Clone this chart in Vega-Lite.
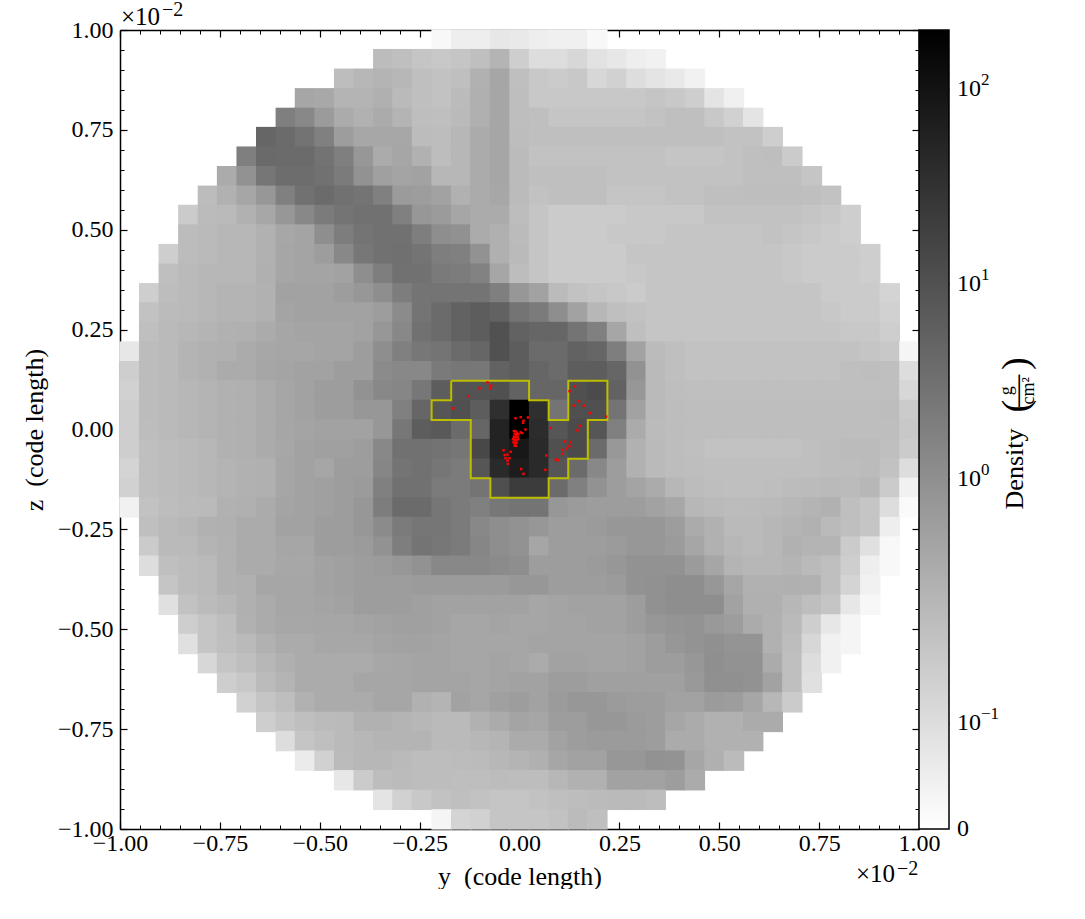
{"$schema":"https://vega.github.io/schema/vega-lite/v6.json","background":"white","padding":{"left":21,"top":0,"right":0,"bottom":0},"spacing":0,"bounds":"flush","config":{"view":{"stroke":null},"font":"Liberation Serif","axis":{"grid":false,"labelFont":"Liberation Serif","titleFont":"Liberation Serif","labelFontSize":24,"titleFontSize":26,"titleFontWeight":"normal","labelColor":"black","titleColor":"black","domainColor":"black","tickColor":"black","domainWidth":1.5,"tickWidth":1.2}},
"datasets":{"frame":[{"y":0,"z":0}],
"contour":[{"n":0,"y":-0.171,"z":0.122},{"n":1,"y":0.024,"z":0.122},{"n":2,"y":0.024,"z":0.073},{"n":3,"y":0.073,"z":0.073},{"n":4,"y":0.073,"z":0.024},{"n":5,"y":0.122,"z":0.024},{"n":6,"y":0.122,"z":0.122},{"n":7,"y":0.22,"z":0.122},{"n":8,"y":0.22,"z":0.024},{"n":9,"y":0.171,"z":0.024},{"n":10,"y":0.171,"z":-0.073},{"n":11,"y":0.122,"z":-0.073},{"n":12,"y":0.122,"z":-0.122},{"n":13,"y":0.073,"z":-0.122},{"n":14,"y":0.073,"z":-0.171},{"n":15,"y":-0.073,"z":-0.171},{"n":16,"y":-0.073,"z":-0.122},{"n":17,"y":-0.122,"z":-0.122},{"n":18,"y":-0.122,"z":0.024},{"n":19,"y":-0.22,"z":0.024},{"n":20,"y":-0.22,"z":0.073},{"n":21,"y":-0.171,"z":0.073},{"n":22,"y":-0.171,"z":0.122}],
"stars":[{"y":-0.08,"z":0.118},{"y":-0.071,"z":0.11},{"y":-0.1,"z":0.103},{"y":-0.072,"z":0.103},{"y":-0.128,"z":0.083},{"y":-0.166,"z":0.053},{"y":-0.01,"z":0.028},{"y":0.003,"z":0.031},{"y":0.01,"z":0.022},{"y":0.009,"z":0.017},{"y":0.021,"z":0.03},{"y":0.015,"z":0},{"y":0.078,"z":0.004},{"y":0.139,"z":0.108},{"y":0.125,"z":0.096},{"y":0.149,"z":0.071},{"y":0.136,"z":0.06},{"y":0.161,"z":0.06},{"y":0.176,"z":0.041},{"y":0.217,"z":0.032},{"y":0.151,"z":0.009},{"y":0.145,"z":-0.002},{"y":0.114,"z":-0.03},{"y":0.128,"z":-0.032},{"y":0.125,"z":-0.042},{"y":0.117,"z":-0.048},{"y":0.108,"z":-0.051},{"y":0.108,"z":-0.061},{"y":0.067,"z":-0.065},{"y":0.091,"z":-0.075},{"y":0.096,"z":-0.077},{"y":-0.04,"z":-0.052},{"y":-0.022,"z":-0.056},{"y":-0.037,"z":-0.064},{"y":-0.03,"z":-0.063},{"y":-0.035,"z":-0.072},{"y":-0.025,"z":-0.072},{"y":-0.03,"z":-0.078},{"y":-0.029,"z":-0.086},{"y":0.004,"z":-0.099},{"y":0.01,"z":-0.111},{"y":0.065,"z":-0.101},{"y":-0.014,"z":-0.004},{"y":-0.01,"z":-0.004},{"y":-0.006,"z":-0.008},{"y":0.003,"z":-0.007},{"y":0.006,"z":-0.009},{"y":-0.012,"z":-0.011},{"y":-0.008,"z":-0.014},{"y":-0.003,"z":-0.012},{"y":-0.014,"z":-0.018},{"y":-0.01,"z":-0.02},{"y":-0.005,"z":-0.019},{"y":-0.016,"z":-0.024},{"y":-0.012,"z":-0.026},{"y":-0.008,"z":-0.027},{"y":-0.003,"z":-0.024},{"y":-0.015,"z":-0.032},{"y":-0.011,"z":-0.035},{"y":-0.007,"z":-0.033},{"y":-0.012,"z":-0.04},{"y":-0.009,"z":-0.041}],
"cells":[
{"y":-0.195,"z":0.976,"d":0.02},{"y":-0.146,"z":0.976,"d":0.05},{"y":-0.098,"z":0.976,"d":0.05},{"y":-0.049,"z":0.976,"d":0.07},{"y":0,"z":0.976,"d":0.065},{"y":0.049,"z":0.976,"d":0.05},{"y":0.098,"z":0.976,"d":0.045},{"y":0.146,"z":0.976,"d":0.045},{"y":0.195,"z":0.976,"d":0.02},
{"y":-0.341,"z":0.927,"d":0.24},{"y":-0.293,"z":0.927,"d":0.2},{"y":-0.244,"z":0.927,"d":0.18},{"y":-0.195,"z":0.927,"d":0.17},{"y":-0.146,"z":0.927,"d":0.18},{"y":-0.098,"z":0.927,"d":0.2},{"y":-0.049,"z":0.927,"d":0.35},{"y":0,"z":0.927,"d":0.15},{"y":0.049,"z":0.927,"d":0.1},{"y":0.098,"z":0.927,"d":0.1},{"y":0.146,"z":0.927,"d":0.12},{"y":0.195,"z":0.927,"d":0.085},{"y":0.244,"z":0.927,"d":0.07},{"y":0.293,"z":0.927,"d":0.05},{"y":0.341,"z":0.927,"d":0.04},
{"y":-0.439,"z":0.878,"d":0.22},{"y":-0.39,"z":0.878,"d":0.3},{"y":-0.341,"z":0.878,"d":0.35},{"y":-0.293,"z":0.878,"d":0.3},{"y":-0.244,"z":0.878,"d":0.2},{"y":-0.195,"z":0.878,"d":0.19},{"y":-0.146,"z":0.878,"d":0.2},{"y":-0.098,"z":0.878,"d":0.38},{"y":-0.049,"z":0.878,"d":0.55},{"y":0,"z":0.878,"d":0.2},{"y":0.049,"z":0.878,"d":0.17},{"y":0.098,"z":0.878,"d":0.16},{"y":0.146,"z":0.878,"d":0.17},{"y":0.195,"z":0.878,"d":0.12},{"y":0.244,"z":0.878,"d":0.14},{"y":0.293,"z":0.878,"d":0.1},{"y":0.341,"z":0.878,"d":0.08},{"y":0.39,"z":0.878,"d":0.065},{"y":0.439,"z":0.878,"d":0.04},
{"y":-0.537,"z":0.829,"d":0.55},{"y":-0.488,"z":0.829,"d":0.5},{"y":-0.439,"z":0.829,"d":0.35},{"y":-0.39,"z":0.829,"d":0.35},{"y":-0.341,"z":0.829,"d":0.4},{"y":-0.293,"z":0.829,"d":0.27},{"y":-0.244,"z":0.829,"d":0.2},{"y":-0.195,"z":0.829,"d":0.19},{"y":-0.146,"z":0.829,"d":0.25},{"y":-0.098,"z":0.829,"d":0.4},{"y":-0.049,"z":0.829,"d":0.55},{"y":0,"z":0.829,"d":0.21},{"y":0.049,"z":0.829,"d":0.17},{"y":0.098,"z":0.829,"d":0.17},{"y":0.146,"z":0.829,"d":0.17},{"y":0.195,"z":0.829,"d":0.17},{"y":0.244,"z":0.829,"d":0.17},{"y":0.293,"z":0.829,"d":0.17},{"y":0.341,"z":0.829,"d":0.18},{"y":0.39,"z":0.829,"d":0.17},{"y":0.439,"z":0.829,"d":0.15},{"y":0.488,"z":0.829,"d":0.08},{"y":0.537,"z":0.829,"d":0.045},
{"y":-0.585,"z":0.78,"d":2.1},{"y":-0.537,"z":0.78,"d":1.6},{"y":-0.488,"z":0.78,"d":0.85},{"y":-0.439,"z":0.78,"d":0.46},{"y":-0.39,"z":0.78,"d":0.38},{"y":-0.341,"z":0.78,"d":0.46},{"y":-0.293,"z":0.78,"d":0.35},{"y":-0.244,"z":0.78,"d":0.21},{"y":-0.195,"z":0.78,"d":0.2},{"y":-0.146,"z":0.78,"d":0.26},{"y":-0.098,"z":0.78,"d":0.4},{"y":-0.049,"z":0.78,"d":0.55},{"y":0,"z":0.78,"d":0.21},{"y":0.049,"z":0.78,"d":0.2},{"y":0.098,"z":0.78,"d":0.18},{"y":0.146,"z":0.78,"d":0.18},{"y":0.195,"z":0.78,"d":0.18},{"y":0.244,"z":0.78,"d":0.18},{"y":0.293,"z":0.78,"d":0.18},{"y":0.341,"z":0.78,"d":0.19},{"y":0.39,"z":0.78,"d":0.2},{"y":0.439,"z":0.78,"d":0.2},{"y":0.488,"z":0.78,"d":0.17},{"y":0.537,"z":0.78,"d":0.14},{"y":0.585,"z":0.78,"d":0.08},
{"y":-0.634,"z":0.732,"d":5},{"y":-0.585,"z":0.732,"d":4.4},{"y":-0.537,"z":0.732,"d":3.5},{"y":-0.488,"z":0.732,"d":2},{"y":-0.439,"z":0.732,"d":0.8},{"y":-0.39,"z":0.732,"d":0.52},{"y":-0.341,"z":0.732,"d":0.52},{"y":-0.293,"z":0.732,"d":0.52},{"y":-0.244,"z":0.732,"d":0.24},{"y":-0.195,"z":0.732,"d":0.22},{"y":-0.146,"z":0.732,"d":0.3},{"y":-0.098,"z":0.732,"d":0.46},{"y":-0.049,"z":0.732,"d":0.55},{"y":0,"z":0.732,"d":0.22},{"y":0.049,"z":0.732,"d":0.2},{"y":0.098,"z":0.732,"d":0.2},{"y":0.146,"z":0.732,"d":0.2},{"y":0.195,"z":0.732,"d":0.2},{"y":0.244,"z":0.732,"d":0.2},{"y":0.293,"z":0.732,"d":0.2},{"y":0.341,"z":0.732,"d":0.2},{"y":0.39,"z":0.732,"d":0.2},{"y":0.439,"z":0.732,"d":0.2},{"y":0.488,"z":0.732,"d":0.2},{"y":0.537,"z":0.732,"d":0.19},{"y":0.585,"z":0.732,"d":0.19},{"y":0.634,"z":0.732,"d":0.15},
{"y":-0.683,"z":0.683,"d":2.1},{"y":-0.634,"z":0.683,"d":4.5},{"y":-0.585,"z":0.683,"d":4.4},{"y":-0.537,"z":0.683,"d":4.4},{"y":-0.488,"z":0.683,"d":3.5},{"y":-0.439,"z":0.683,"d":2.1},{"y":-0.39,"z":0.683,"d":0.95},{"y":-0.341,"z":0.683,"d":0.46},{"y":-0.293,"z":0.683,"d":0.55},{"y":-0.244,"z":0.683,"d":0.38},{"y":-0.195,"z":0.683,"d":0.22},{"y":-0.146,"z":0.683,"d":0.3},{"y":-0.098,"z":0.683,"d":0.46},{"y":-0.049,"z":0.683,"d":0.55},{"y":0,"z":0.683,"d":0.25},{"y":0.049,"z":0.683,"d":0.19},{"y":0.098,"z":0.683,"d":0.19},{"y":0.146,"z":0.683,"d":0.19},{"y":0.195,"z":0.683,"d":0.19},{"y":0.244,"z":0.683,"d":0.19},{"y":0.293,"z":0.683,"d":0.19},{"y":0.341,"z":0.683,"d":0.19},{"y":0.39,"z":0.683,"d":0.18},{"y":0.439,"z":0.683,"d":0.18},{"y":0.488,"z":0.683,"d":0.18},{"y":0.537,"z":0.683,"d":0.19},{"y":0.585,"z":0.683,"d":0.2},{"y":0.634,"z":0.683,"d":0.21},{"y":0.683,"z":0.683,"d":0.16},
{"y":-0.732,"z":0.634,"d":0.46},{"y":-0.683,"z":0.634,"d":1.15},{"y":-0.634,"z":0.634,"d":3.2},{"y":-0.585,"z":0.634,"d":4.2},{"y":-0.537,"z":0.634,"d":4.2},{"y":-0.488,"z":0.634,"d":3.7},{"y":-0.439,"z":0.634,"d":2.6},{"y":-0.39,"z":0.634,"d":1.15},{"y":-0.341,"z":0.634,"d":0.72},{"y":-0.293,"z":0.634,"d":0.6},{"y":-0.244,"z":0.634,"d":0.66},{"y":-0.195,"z":0.634,"d":0.3},{"y":-0.146,"z":0.634,"d":0.3},{"y":-0.098,"z":0.634,"d":0.46},{"y":-0.049,"z":0.634,"d":0.55},{"y":0,"z":0.634,"d":0.25},{"y":0.049,"z":0.634,"d":0.2},{"y":0.098,"z":0.634,"d":0.2},{"y":0.146,"z":0.634,"d":0.2},{"y":0.195,"z":0.634,"d":0.2},{"y":0.244,"z":0.634,"d":0.19},{"y":0.293,"z":0.634,"d":0.19},{"y":0.341,"z":0.634,"d":0.19},{"y":0.39,"z":0.634,"d":0.19},{"y":0.439,"z":0.634,"d":0.19},{"y":0.488,"z":0.634,"d":0.19},{"y":0.537,"z":0.634,"d":0.19},{"y":0.585,"z":0.634,"d":0.2},{"y":0.634,"z":0.634,"d":0.2},{"y":0.683,"z":0.634,"d":0.2},{"y":0.732,"z":0.634,"d":0.18},
{"y":-0.78,"z":0.585,"d":0.24},{"y":-0.732,"z":0.585,"d":0.38},{"y":-0.683,"z":0.585,"d":0.55},{"y":-0.634,"z":0.585,"d":0.96},{"y":-0.585,"z":0.585,"d":2},{"y":-0.537,"z":0.585,"d":3.7},{"y":-0.488,"z":0.585,"d":4.4},{"y":-0.439,"z":0.585,"d":3.7},{"y":-0.39,"z":0.585,"d":3.4},{"y":-0.341,"z":0.585,"d":2},{"y":-0.293,"z":0.585,"d":0.85},{"y":-0.244,"z":0.585,"d":0.8},{"y":-0.195,"z":0.585,"d":0.66},{"y":-0.146,"z":0.585,"d":0.38},{"y":-0.098,"z":0.585,"d":0.46},{"y":-0.049,"z":0.585,"d":0.52},{"y":0,"z":0.585,"d":0.25},{"y":0.049,"z":0.585,"d":0.19},{"y":0.098,"z":0.585,"d":0.2},{"y":0.146,"z":0.585,"d":0.2},{"y":0.195,"z":0.585,"d":0.2},{"y":0.244,"z":0.585,"d":0.18},{"y":0.293,"z":0.585,"d":0.18},{"y":0.341,"z":0.585,"d":0.18},{"y":0.39,"z":0.585,"d":0.19},{"y":0.439,"z":0.585,"d":0.19},{"y":0.488,"z":0.585,"d":0.2},{"y":0.537,"z":0.585,"d":0.2},{"y":0.585,"z":0.585,"d":0.21},{"y":0.634,"z":0.585,"d":0.21},{"y":0.683,"z":0.585,"d":0.21},{"y":0.732,"z":0.585,"d":0.2},{"y":0.78,"z":0.585,"d":0.19},
{"y":-0.829,"z":0.537,"d":0.16},{"y":-0.78,"z":0.537,"d":0.25},{"y":-0.732,"z":0.537,"d":0.27},{"y":-0.683,"z":0.537,"d":0.38},{"y":-0.634,"z":0.537,"d":0.52},{"y":-0.585,"z":0.537,"d":0.96},{"y":-0.537,"z":0.537,"d":1.6},{"y":-0.488,"z":0.537,"d":2.6},{"y":-0.439,"z":0.537,"d":3.4},{"y":-0.39,"z":0.537,"d":3.7},{"y":-0.341,"z":0.537,"d":3.7},{"y":-0.293,"z":0.537,"d":2},{"y":-0.244,"z":0.537,"d":0.96},{"y":-0.195,"z":0.537,"d":0.85},{"y":-0.146,"z":0.537,"d":0.55},{"y":-0.098,"z":0.537,"d":0.46},{"y":-0.049,"z":0.537,"d":0.46},{"y":0,"z":0.537,"d":0.23},{"y":0.049,"z":0.537,"d":0.18},{"y":0.098,"z":0.537,"d":0.16},{"y":0.146,"z":0.537,"d":0.16},{"y":0.195,"z":0.537,"d":0.16},{"y":0.244,"z":0.537,"d":0.16},{"y":0.293,"z":0.537,"d":0.17},{"y":0.341,"z":0.537,"d":0.17},{"y":0.39,"z":0.537,"d":0.17},{"y":0.439,"z":0.537,"d":0.17},{"y":0.488,"z":0.537,"d":0.19},{"y":0.537,"z":0.537,"d":0.19},{"y":0.585,"z":0.537,"d":0.19},{"y":0.634,"z":0.537,"d":0.19},{"y":0.683,"z":0.537,"d":0.19},{"y":0.732,"z":0.537,"d":0.18},{"y":0.78,"z":0.537,"d":0.17},{"y":0.829,"z":0.537,"d":0.15},
{"y":-0.829,"z":0.488,"d":0.24},{"y":-0.78,"z":0.488,"d":0.27},{"y":-0.732,"z":0.488,"d":0.3},{"y":-0.683,"z":0.488,"d":0.3},{"y":-0.634,"z":0.488,"d":0.38},{"y":-0.585,"z":0.488,"d":0.52},{"y":-0.537,"z":0.488,"d":0.6},{"y":-0.488,"z":0.488,"d":1.35},{"y":-0.439,"z":0.488,"d":2.3},{"y":-0.39,"z":0.488,"d":3.4},{"y":-0.341,"z":0.488,"d":3.7},{"y":-0.293,"z":0.488,"d":3.7},{"y":-0.244,"z":0.488,"d":2.2},{"y":-0.195,"z":0.488,"d":1.35},{"y":-0.146,"z":0.488,"d":1.2},{"y":-0.098,"z":0.488,"d":0.46},{"y":-0.049,"z":0.488,"d":0.4},{"y":0,"z":0.488,"d":0.25},{"y":0.049,"z":0.488,"d":0.18},{"y":0.098,"z":0.488,"d":0.16},{"y":0.146,"z":0.488,"d":0.16},{"y":0.195,"z":0.488,"d":0.16},{"y":0.244,"z":0.488,"d":0.17},{"y":0.293,"z":0.488,"d":0.17},{"y":0.341,"z":0.488,"d":0.17},{"y":0.39,"z":0.488,"d":0.18},{"y":0.439,"z":0.488,"d":0.18},{"y":0.488,"z":0.488,"d":0.18},{"y":0.537,"z":0.488,"d":0.18},{"y":0.585,"z":0.488,"d":0.18},{"y":0.634,"z":0.488,"d":0.19},{"y":0.683,"z":0.488,"d":0.18},{"y":0.732,"z":0.488,"d":0.17},{"y":0.78,"z":0.488,"d":0.16},{"y":0.829,"z":0.488,"d":0.15},
{"y":-0.878,"z":0.439,"d":0.15},{"y":-0.829,"z":0.439,"d":0.24},{"y":-0.78,"z":0.439,"d":0.27},{"y":-0.732,"z":0.439,"d":0.3},{"y":-0.683,"z":0.439,"d":0.3},{"y":-0.634,"z":0.439,"d":0.38},{"y":-0.585,"z":0.439,"d":0.55},{"y":-0.537,"z":0.439,"d":0.6},{"y":-0.488,"z":0.439,"d":0.8},{"y":-0.439,"z":0.439,"d":1.6},{"y":-0.39,"z":0.439,"d":3},{"y":-0.341,"z":0.439,"d":3.7},{"y":-0.293,"z":0.439,"d":3.8},{"y":-0.244,"z":0.439,"d":3.4},{"y":-0.195,"z":0.439,"d":2.2},{"y":-0.146,"z":0.439,"d":2},{"y":-0.098,"z":0.439,"d":1.15},{"y":-0.049,"z":0.439,"d":0.4},{"y":0,"z":0.439,"d":0.27},{"y":0.049,"z":0.439,"d":0.18},{"y":0.098,"z":0.439,"d":0.16},{"y":0.146,"z":0.439,"d":0.16},{"y":0.195,"z":0.439,"d":0.16},{"y":0.244,"z":0.439,"d":0.16},{"y":0.293,"z":0.439,"d":0.18},{"y":0.341,"z":0.439,"d":0.18},{"y":0.39,"z":0.439,"d":0.18},{"y":0.439,"z":0.439,"d":0.18},{"y":0.488,"z":0.439,"d":0.18},{"y":0.537,"z":0.439,"d":0.18},{"y":0.585,"z":0.439,"d":0.18},{"y":0.634,"z":0.439,"d":0.18},{"y":0.683,"z":0.439,"d":0.17},{"y":0.732,"z":0.439,"d":0.16},{"y":0.78,"z":0.439,"d":0.16},{"y":0.829,"z":0.439,"d":0.16},{"y":0.878,"z":0.439,"d":0.15},
{"y":-0.878,"z":0.39,"d":0.2},{"y":-0.829,"z":0.39,"d":0.27},{"y":-0.78,"z":0.39,"d":0.3},{"y":-0.732,"z":0.39,"d":0.3},{"y":-0.683,"z":0.39,"d":0.3},{"y":-0.634,"z":0.39,"d":0.4},{"y":-0.585,"z":0.39,"d":0.55},{"y":-0.537,"z":0.39,"d":0.6},{"y":-0.488,"z":0.39,"d":0.6},{"y":-0.439,"z":0.39,"d":0.66},{"y":-0.39,"z":0.39,"d":1.35},{"y":-0.341,"z":0.39,"d":2.2},{"y":-0.293,"z":0.39,"d":3.7},{"y":-0.244,"z":0.39,"d":3.7},{"y":-0.195,"z":0.39,"d":2.7},{"y":-0.146,"z":0.39,"d":2.5},{"y":-0.098,"z":0.39,"d":1.9},{"y":-0.049,"z":0.39,"d":0.55},{"y":0,"z":0.39,"d":0.22},{"y":0.049,"z":0.39,"d":0.18},{"y":0.098,"z":0.39,"d":0.16},{"y":0.146,"z":0.39,"d":0.16},{"y":0.195,"z":0.39,"d":0.16},{"y":0.244,"z":0.39,"d":0.16},{"y":0.293,"z":0.39,"d":0.17},{"y":0.341,"z":0.39,"d":0.18},{"y":0.39,"z":0.39,"d":0.18},{"y":0.439,"z":0.39,"d":0.18},{"y":0.488,"z":0.39,"d":0.18},{"y":0.537,"z":0.39,"d":0.18},{"y":0.585,"z":0.39,"d":0.18},{"y":0.634,"z":0.39,"d":0.18},{"y":0.683,"z":0.39,"d":0.17},{"y":0.732,"z":0.39,"d":0.16},{"y":0.78,"z":0.39,"d":0.16},{"y":0.829,"z":0.39,"d":0.16},{"y":0.878,"z":0.39,"d":0.15},
{"y":-0.927,"z":0.341,"d":0.15},{"y":-0.878,"z":0.341,"d":0.22},{"y":-0.829,"z":0.341,"d":0.27},{"y":-0.78,"z":0.341,"d":0.3},{"y":-0.732,"z":0.341,"d":0.35},{"y":-0.683,"z":0.341,"d":0.35},{"y":-0.634,"z":0.341,"d":0.38},{"y":-0.585,"z":0.341,"d":0.66},{"y":-0.537,"z":0.341,"d":0.66},{"y":-0.488,"z":0.341,"d":0.66},{"y":-0.439,"z":0.341,"d":0.8},{"y":-0.39,"z":0.341,"d":0.96},{"y":-0.341,"z":0.341,"d":1.35},{"y":-0.293,"z":0.341,"d":2.3},{"y":-0.244,"z":0.341,"d":3.4},{"y":-0.195,"z":0.341,"d":3.4},{"y":-0.146,"z":0.341,"d":3.4},{"y":-0.098,"z":0.341,"d":3.4},{"y":-0.049,"z":0.341,"d":2.1},{"y":0,"z":0.341,"d":0.96},{"y":0.049,"z":0.341,"d":0.66},{"y":0.098,"z":0.341,"d":0.25},{"y":0.146,"z":0.341,"d":0.19},{"y":0.195,"z":0.341,"d":0.18},{"y":0.244,"z":0.341,"d":0.17},{"y":0.293,"z":0.341,"d":0.16},{"y":0.341,"z":0.341,"d":0.18},{"y":0.39,"z":0.341,"d":0.18},{"y":0.439,"z":0.341,"d":0.18},{"y":0.488,"z":0.341,"d":0.18},{"y":0.537,"z":0.341,"d":0.18},{"y":0.585,"z":0.341,"d":0.18},{"y":0.634,"z":0.341,"d":0.18},{"y":0.683,"z":0.341,"d":0.18},{"y":0.732,"z":0.341,"d":0.18},{"y":0.78,"z":0.341,"d":0.16},{"y":0.829,"z":0.341,"d":0.16},{"y":0.878,"z":0.341,"d":0.16},{"y":0.927,"z":0.341,"d":0.13},
{"y":-0.927,"z":0.293,"d":0.19},{"y":-0.878,"z":0.293,"d":0.25},{"y":-0.829,"z":0.293,"d":0.27},{"y":-0.78,"z":0.293,"d":0.3},{"y":-0.732,"z":0.293,"d":0.35},{"y":-0.683,"z":0.293,"d":0.35},{"y":-0.634,"z":0.293,"d":0.38},{"y":-0.585,"z":0.293,"d":0.6},{"y":-0.537,"z":0.293,"d":0.66},{"y":-0.488,"z":0.293,"d":0.66},{"y":-0.439,"z":0.293,"d":0.66},{"y":-0.39,"z":0.293,"d":0.66},{"y":-0.341,"z":0.293,"d":0.8},{"y":-0.293,"z":0.293,"d":1.5},{"y":-0.244,"z":0.293,"d":3.4},{"y":-0.195,"z":0.293,"d":4.4},{"y":-0.146,"z":0.293,"d":6},{"y":-0.098,"z":0.293,"d":7.2},{"y":-0.049,"z":0.293,"d":6},{"y":0,"z":0.293,"d":3.4},{"y":0.049,"z":0.293,"d":2.6},{"y":0.098,"z":0.293,"d":1.35},{"y":0.146,"z":0.293,"d":0.66},{"y":0.195,"z":0.293,"d":0.3},{"y":0.244,"z":0.293,"d":0.2},{"y":0.293,"z":0.293,"d":0.19},{"y":0.341,"z":0.293,"d":0.18},{"y":0.39,"z":0.293,"d":0.18},{"y":0.439,"z":0.293,"d":0.18},{"y":0.488,"z":0.293,"d":0.18},{"y":0.537,"z":0.293,"d":0.18},{"y":0.585,"z":0.293,"d":0.18},{"y":0.634,"z":0.293,"d":0.18},{"y":0.683,"z":0.293,"d":0.18},{"y":0.732,"z":0.293,"d":0.18},{"y":0.78,"z":0.293,"d":0.17},{"y":0.829,"z":0.293,"d":0.16},{"y":0.878,"z":0.293,"d":0.16},{"y":0.927,"z":0.293,"d":0.14},
{"y":-0.927,"z":0.244,"d":0.2},{"y":-0.878,"z":0.244,"d":0.27},{"y":-0.829,"z":0.244,"d":0.3},{"y":-0.78,"z":0.244,"d":0.35},{"y":-0.732,"z":0.244,"d":0.38},{"y":-0.683,"z":0.244,"d":0.4},{"y":-0.634,"z":0.244,"d":0.46},{"y":-0.585,"z":0.244,"d":0.55},{"y":-0.537,"z":0.244,"d":0.6},{"y":-0.488,"z":0.244,"d":0.6},{"y":-0.439,"z":0.244,"d":0.6},{"y":-0.39,"z":0.244,"d":0.66},{"y":-0.341,"z":0.244,"d":0.96},{"y":-0.293,"z":0.244,"d":1.6},{"y":-0.244,"z":0.244,"d":3.7},{"y":-0.195,"z":0.244,"d":4.4},{"y":-0.146,"z":0.244,"d":6},{"y":-0.098,"z":0.244,"d":7.2},{"y":-0.049,"z":0.244,"d":10},{"y":0,"z":0.244,"d":6},{"y":0.049,"z":0.244,"d":5},{"y":0.098,"z":0.244,"d":5},{"y":0.146,"z":0.244,"d":3.4},{"y":0.195,"z":0.244,"d":2},{"y":0.244,"z":0.244,"d":0.55},{"y":0.293,"z":0.244,"d":0.2},{"y":0.341,"z":0.244,"d":0.18},{"y":0.39,"z":0.244,"d":0.18},{"y":0.439,"z":0.244,"d":0.18},{"y":0.488,"z":0.244,"d":0.18},{"y":0.537,"z":0.244,"d":0.18},{"y":0.585,"z":0.244,"d":0.18},{"y":0.634,"z":0.244,"d":0.18},{"y":0.683,"z":0.244,"d":0.18},{"y":0.732,"z":0.244,"d":0.18},{"y":0.78,"z":0.244,"d":0.18},{"y":0.829,"z":0.244,"d":0.17},{"y":0.878,"z":0.244,"d":0.17},{"y":0.927,"z":0.244,"d":0.15},
{"y":-0.976,"z":0.195,"d":0.07},{"y":-0.927,"z":0.195,"d":0.24},{"y":-0.878,"z":0.195,"d":0.27},{"y":-0.829,"z":0.195,"d":0.35},{"y":-0.78,"z":0.195,"d":0.38},{"y":-0.732,"z":0.195,"d":0.4},{"y":-0.683,"z":0.195,"d":0.46},{"y":-0.634,"z":0.195,"d":0.52},{"y":-0.585,"z":0.195,"d":0.55},{"y":-0.537,"z":0.195,"d":0.55},{"y":-0.488,"z":0.195,"d":0.6},{"y":-0.439,"z":0.195,"d":0.6},{"y":-0.39,"z":0.195,"d":0.8},{"y":-0.341,"z":0.195,"d":1.35},{"y":-0.293,"z":0.195,"d":2},{"y":-0.244,"z":0.195,"d":3},{"y":-0.195,"z":0.195,"d":3.4},{"y":-0.146,"z":0.195,"d":4.4},{"y":-0.098,"z":0.195,"d":5},{"y":-0.049,"z":0.195,"d":10},{"y":0,"z":0.195,"d":7.2},{"y":0.049,"z":0.195,"d":4.4},{"y":0.098,"z":0.195,"d":4.4},{"y":0.146,"z":0.195,"d":6},{"y":0.195,"z":0.195,"d":5},{"y":0.244,"z":0.195,"d":2.2},{"y":0.293,"z":0.195,"d":0.66},{"y":0.341,"z":0.195,"d":0.25},{"y":0.39,"z":0.195,"d":0.2},{"y":0.439,"z":0.195,"d":0.19},{"y":0.488,"z":0.195,"d":0.19},{"y":0.537,"z":0.195,"d":0.19},{"y":0.585,"z":0.195,"d":0.19},{"y":0.634,"z":0.195,"d":0.19},{"y":0.683,"z":0.195,"d":0.19},{"y":0.732,"z":0.195,"d":0.19},{"y":0.78,"z":0.195,"d":0.19},{"y":0.829,"z":0.195,"d":0.19},{"y":0.878,"z":0.195,"d":0.18},{"y":0.927,"z":0.195,"d":0.17},{"y":0.976,"z":0.195,"d":0.03},
{"y":-0.976,"z":0.146,"d":0.15},{"y":-0.927,"z":0.146,"d":0.24},{"y":-0.878,"z":0.146,"d":0.27},{"y":-0.829,"z":0.146,"d":0.35},{"y":-0.78,"z":0.146,"d":0.38},{"y":-0.732,"z":0.146,"d":0.46},{"y":-0.683,"z":0.146,"d":0.46},{"y":-0.634,"z":0.146,"d":0.55},{"y":-0.585,"z":0.146,"d":0.6},{"y":-0.537,"z":0.146,"d":0.66},{"y":-0.488,"z":0.146,"d":0.66},{"y":-0.439,"z":0.146,"d":0.8},{"y":-0.39,"z":0.146,"d":0.8},{"y":-0.341,"z":0.146,"d":1.5},{"y":-0.293,"z":0.146,"d":1.6},{"y":-0.244,"z":0.146,"d":1.6},{"y":-0.195,"z":0.146,"d":2.7},{"y":-0.146,"z":0.146,"d":3},{"y":-0.098,"z":0.146,"d":3},{"y":-0.049,"z":0.146,"d":6},{"y":0,"z":0.146,"d":7.2},{"y":0.049,"z":0.146,"d":5},{"y":0.098,"z":0.146,"d":4.4},{"y":0.146,"z":0.146,"d":7.2},{"y":0.195,"z":0.146,"d":7.2},{"y":0.244,"z":0.146,"d":5},{"y":0.293,"z":0.146,"d":1.15},{"y":0.341,"z":0.146,"d":0.27},{"y":0.39,"z":0.146,"d":0.2},{"y":0.439,"z":0.146,"d":0.19},{"y":0.488,"z":0.146,"d":0.19},{"y":0.537,"z":0.146,"d":0.19},{"y":0.585,"z":0.146,"d":0.19},{"y":0.634,"z":0.146,"d":0.19},{"y":0.683,"z":0.146,"d":0.19},{"y":0.732,"z":0.146,"d":0.19},{"y":0.78,"z":0.146,"d":0.19},{"y":0.829,"z":0.146,"d":0.2},{"y":0.878,"z":0.146,"d":0.21},{"y":0.927,"z":0.146,"d":0.2},{"y":0.976,"z":0.146,"d":0.1},
{"y":-0.976,"z":0.098,"d":0.14},{"y":-0.927,"z":0.098,"d":0.24},{"y":-0.878,"z":0.098,"d":0.27},{"y":-0.829,"z":0.098,"d":0.3},{"y":-0.78,"z":0.098,"d":0.35},{"y":-0.732,"z":0.098,"d":0.38},{"y":-0.683,"z":0.098,"d":0.4},{"y":-0.634,"z":0.098,"d":0.46},{"y":-0.585,"z":0.098,"d":0.55},{"y":-0.537,"z":0.098,"d":0.66},{"y":-0.488,"z":0.098,"d":0.8},{"y":-0.439,"z":0.098,"d":0.8},{"y":-0.39,"z":0.098,"d":1.15},{"y":-0.341,"z":0.098,"d":1.6},{"y":-0.293,"z":0.098,"d":1.7},{"y":-0.244,"z":0.098,"d":3},{"y":-0.195,"z":0.098,"d":7.2},{"y":-0.146,"z":0.098,"d":9.5},{"y":-0.098,"z":0.098,"d":9.5},{"y":-0.049,"z":0.098,"d":10.5},{"y":0,"z":0.098,"d":6},{"y":0.049,"z":0.098,"d":5},{"y":0.098,"z":0.098,"d":5},{"y":0.146,"z":0.098,"d":10.5},{"y":0.195,"z":0.098,"d":13},{"y":0.244,"z":0.098,"d":6},{"y":0.293,"z":0.098,"d":0.96},{"y":0.341,"z":0.098,"d":0.27},{"y":0.39,"z":0.098,"d":0.21},{"y":0.439,"z":0.098,"d":0.2},{"y":0.488,"z":0.098,"d":0.2},{"y":0.537,"z":0.098,"d":0.2},{"y":0.585,"z":0.098,"d":0.2},{"y":0.634,"z":0.098,"d":0.2},{"y":0.683,"z":0.098,"d":0.2},{"y":0.732,"z":0.098,"d":0.2},{"y":0.78,"z":0.098,"d":0.2},{"y":0.829,"z":0.098,"d":0.2},{"y":0.878,"z":0.098,"d":0.2},{"y":0.927,"z":0.098,"d":0.2},{"y":0.976,"z":0.098,"d":0.12},
{"y":-0.976,"z":0.049,"d":0.15},{"y":-0.927,"z":0.049,"d":0.24},{"y":-0.878,"z":0.049,"d":0.27},{"y":-0.829,"z":0.049,"d":0.3},{"y":-0.78,"z":0.049,"d":0.35},{"y":-0.732,"z":0.049,"d":0.38},{"y":-0.683,"z":0.049,"d":0.4},{"y":-0.634,"z":0.049,"d":0.46},{"y":-0.585,"z":0.049,"d":0.55},{"y":-0.537,"z":0.049,"d":0.66},{"y":-0.488,"z":0.049,"d":0.8},{"y":-0.439,"z":0.049,"d":0.8},{"y":-0.39,"z":0.049,"d":0.96},{"y":-0.341,"z":0.049,"d":0.96},{"y":-0.293,"z":0.049,"d":2},{"y":-0.244,"z":0.049,"d":5},{"y":-0.195,"z":0.049,"d":8.7},{"y":-0.146,"z":0.049,"d":10.5},{"y":-0.098,"z":0.049,"d":7.2},{"y":-0.049,"z":0.049,"d":38},{"y":0,"z":0.049,"d":200},{"y":0.049,"z":0.049,"d":38},{"y":0.098,"z":0.049,"d":3.4},{"y":0.146,"z":0.049,"d":10.5},{"y":0.195,"z":0.049,"d":10.5},{"y":0.244,"z":0.049,"d":3.4},{"y":0.293,"z":0.049,"d":0.66},{"y":0.341,"z":0.049,"d":0.27},{"y":0.39,"z":0.049,"d":0.22},{"y":0.439,"z":0.049,"d":0.21},{"y":0.488,"z":0.049,"d":0.21},{"y":0.537,"z":0.049,"d":0.21},{"y":0.585,"z":0.049,"d":0.21},{"y":0.634,"z":0.049,"d":0.21},{"y":0.683,"z":0.049,"d":0.21},{"y":0.732,"z":0.049,"d":0.21},{"y":0.78,"z":0.049,"d":0.21},{"y":0.829,"z":0.049,"d":0.21},{"y":0.878,"z":0.049,"d":0.21},{"y":0.927,"z":0.049,"d":0.22},{"y":0.976,"z":0.049,"d":0.16},
{"y":-0.976,"z":0,"d":0.15},{"y":-0.927,"z":0,"d":0.22},{"y":-0.878,"z":0,"d":0.27},{"y":-0.829,"z":0,"d":0.3},{"y":-0.78,"z":0,"d":0.35},{"y":-0.732,"z":0,"d":0.38},{"y":-0.683,"z":0,"d":0.4},{"y":-0.634,"z":0,"d":0.46},{"y":-0.585,"z":0,"d":0.55},{"y":-0.537,"z":0,"d":0.6},{"y":-0.488,"z":0,"d":0.66},{"y":-0.439,"z":0,"d":0.66},{"y":-0.39,"z":0,"d":0.66},{"y":-0.341,"z":0,"d":0.96},{"y":-0.293,"z":0,"d":3},{"y":-0.244,"z":0,"d":7.2},{"y":-0.195,"z":0,"d":8},{"y":-0.146,"z":0,"d":4.4},{"y":-0.098,"z":0,"d":5},{"y":-0.049,"z":0,"d":55},{"y":0,"z":0,"d":200},{"y":0.049,"z":0,"d":42},{"y":0.098,"z":0,"d":8.7},{"y":0.146,"z":0,"d":13},{"y":0.195,"z":0,"d":8.7},{"y":0.244,"z":0,"d":2},{"y":0.293,"z":0,"d":0.46},{"y":0.341,"z":0,"d":0.25},{"y":0.39,"z":0,"d":0.22},{"y":0.439,"z":0,"d":0.21},{"y":0.488,"z":0,"d":0.21},{"y":0.537,"z":0,"d":0.21},{"y":0.585,"z":0,"d":0.21},{"y":0.634,"z":0,"d":0.21},{"y":0.683,"z":0,"d":0.21},{"y":0.732,"z":0,"d":0.21},{"y":0.78,"z":0,"d":0.21},{"y":0.829,"z":0,"d":0.21},{"y":0.878,"z":0,"d":0.21},{"y":0.927,"z":0,"d":0.21},{"y":0.976,"z":0,"d":0.17},
{"y":-0.976,"z":-0.049,"d":0.15},{"y":-0.927,"z":-0.049,"d":0.2},{"y":-0.878,"z":-0.049,"d":0.24},{"y":-0.829,"z":-0.049,"d":0.27},{"y":-0.78,"z":-0.049,"d":0.3},{"y":-0.732,"z":-0.049,"d":0.38},{"y":-0.683,"z":-0.049,"d":0.4},{"y":-0.634,"z":-0.049,"d":0.46},{"y":-0.585,"z":-0.049,"d":0.52},{"y":-0.537,"z":-0.049,"d":0.66},{"y":-0.488,"z":-0.049,"d":0.72},{"y":-0.439,"z":-0.049,"d":0.72},{"y":-0.39,"z":-0.049,"d":0.8},{"y":-0.341,"z":-0.049,"d":1.6},{"y":-0.293,"z":-0.049,"d":3.7},{"y":-0.244,"z":-0.049,"d":3.7},{"y":-0.195,"z":-0.049,"d":3.5},{"y":-0.146,"z":-0.049,"d":3.2},{"y":-0.098,"z":-0.049,"d":15},{"y":-0.049,"z":-0.049,"d":55},{"y":0,"z":-0.049,"d":85},{"y":0.049,"z":-0.049,"d":44},{"y":0.098,"z":-0.049,"d":10.5},{"y":0.146,"z":-0.049,"d":13},{"y":0.195,"z":-0.049,"d":4.4},{"y":0.244,"z":-0.049,"d":0.93},{"y":0.293,"z":-0.049,"d":0.38},{"y":0.341,"z":-0.049,"d":0.27},{"y":0.39,"z":-0.049,"d":0.22},{"y":0.439,"z":-0.049,"d":0.2},{"y":0.488,"z":-0.049,"d":0.19},{"y":0.537,"z":-0.049,"d":0.19},{"y":0.585,"z":-0.049,"d":0.19},{"y":0.634,"z":-0.049,"d":0.19},{"y":0.683,"z":-0.049,"d":0.19},{"y":0.732,"z":-0.049,"d":0.2},{"y":0.78,"z":-0.049,"d":0.22},{"y":0.829,"z":-0.049,"d":0.25},{"y":0.878,"z":-0.049,"d":0.25},{"y":0.927,"z":-0.049,"d":0.2},{"y":0.976,"z":-0.049,"d":0.16},
{"y":-0.976,"z":-0.098,"d":0.13},{"y":-0.927,"z":-0.098,"d":0.2},{"y":-0.878,"z":-0.098,"d":0.24},{"y":-0.829,"z":-0.098,"d":0.27},{"y":-0.78,"z":-0.098,"d":0.3},{"y":-0.732,"z":-0.098,"d":0.35},{"y":-0.683,"z":-0.098,"d":0.38},{"y":-0.634,"z":-0.098,"d":0.4},{"y":-0.585,"z":-0.098,"d":0.55},{"y":-0.537,"z":-0.098,"d":0.66},{"y":-0.488,"z":-0.098,"d":0.55},{"y":-0.439,"z":-0.098,"d":0.8},{"y":-0.39,"z":-0.098,"d":0.8},{"y":-0.341,"z":-0.098,"d":1.7},{"y":-0.293,"z":-0.098,"d":3.4},{"y":-0.244,"z":-0.098,"d":3.7},{"y":-0.195,"z":-0.098,"d":3.2},{"y":-0.146,"z":-0.098,"d":2.6},{"y":-0.098,"z":-0.098,"d":8.7},{"y":-0.049,"z":-0.098,"d":44},{"y":0,"z":-0.098,"d":72},{"y":0.049,"z":-0.098,"d":44},{"y":0.098,"z":-0.098,"d":8.7},{"y":0.146,"z":-0.098,"d":4.4},{"y":0.195,"z":-0.098,"d":1.6},{"y":0.244,"z":-0.098,"d":0.8},{"y":0.293,"z":-0.098,"d":0.38},{"y":0.341,"z":-0.098,"d":0.27},{"y":0.39,"z":-0.098,"d":0.22},{"y":0.439,"z":-0.098,"d":0.21},{"y":0.488,"z":-0.098,"d":0.2},{"y":0.537,"z":-0.098,"d":0.2},{"y":0.585,"z":-0.098,"d":0.2},{"y":0.634,"z":-0.098,"d":0.2},{"y":0.683,"z":-0.098,"d":0.2},{"y":0.732,"z":-0.098,"d":0.2},{"y":0.78,"z":-0.098,"d":0.22},{"y":0.829,"z":-0.098,"d":0.22},{"y":0.878,"z":-0.098,"d":0.25},{"y":0.927,"z":-0.098,"d":0.19},{"y":0.976,"z":-0.098,"d":0.1},
{"y":-0.976,"z":-0.146,"d":0.14},{"y":-0.927,"z":-0.146,"d":0.2},{"y":-0.878,"z":-0.146,"d":0.24},{"y":-0.829,"z":-0.146,"d":0.27},{"y":-0.78,"z":-0.146,"d":0.3},{"y":-0.732,"z":-0.146,"d":0.35},{"y":-0.683,"z":-0.146,"d":0.38},{"y":-0.634,"z":-0.146,"d":0.4},{"y":-0.585,"z":-0.146,"d":0.55},{"y":-0.537,"z":-0.146,"d":0.66},{"y":-0.488,"z":-0.146,"d":0.72},{"y":-0.439,"z":-0.146,"d":0.8},{"y":-0.39,"z":-0.146,"d":0.85},{"y":-0.341,"z":-0.146,"d":2},{"y":-0.293,"z":-0.146,"d":3.7},{"y":-0.244,"z":-0.146,"d":3.7},{"y":-0.195,"z":-0.146,"d":2.6},{"y":-0.146,"z":-0.146,"d":2.6},{"y":-0.098,"z":-0.146,"d":3.4},{"y":-0.049,"z":-0.146,"d":11},{"y":0,"z":-0.146,"d":22},{"y":0.049,"z":-0.146,"d":22},{"y":0.098,"z":-0.146,"d":4.4},{"y":0.146,"z":-0.146,"d":2},{"y":0.195,"z":-0.146,"d":1.15},{"y":0.244,"z":-0.146,"d":0.8},{"y":0.293,"z":-0.146,"d":0.6},{"y":0.341,"z":-0.146,"d":0.46},{"y":0.39,"z":-0.146,"d":0.3},{"y":0.439,"z":-0.146,"d":0.24},{"y":0.488,"z":-0.146,"d":0.21},{"y":0.537,"z":-0.146,"d":0.2},{"y":0.585,"z":-0.146,"d":0.2},{"y":0.634,"z":-0.146,"d":0.21},{"y":0.683,"z":-0.146,"d":0.24},{"y":0.732,"z":-0.146,"d":0.25},{"y":0.78,"z":-0.146,"d":0.27},{"y":0.829,"z":-0.146,"d":0.25},{"y":0.878,"z":-0.146,"d":0.3},{"y":0.927,"z":-0.146,"d":0.16},{"y":0.976,"z":-0.146,"d":0.04},
{"y":-0.976,"z":-0.195,"d":0.04},{"y":-0.927,"z":-0.195,"d":0.19},{"y":-0.878,"z":-0.195,"d":0.22},{"y":-0.829,"z":-0.195,"d":0.25},{"y":-0.78,"z":-0.195,"d":0.27},{"y":-0.732,"z":-0.195,"d":0.38},{"y":-0.683,"z":-0.195,"d":0.4},{"y":-0.634,"z":-0.195,"d":0.46},{"y":-0.585,"z":-0.195,"d":0.6},{"y":-0.537,"z":-0.195,"d":0.66},{"y":-0.488,"z":-0.195,"d":0.72},{"y":-0.439,"z":-0.195,"d":0.8},{"y":-0.39,"z":-0.195,"d":0.96},{"y":-0.341,"z":-0.195,"d":2.3},{"y":-0.293,"z":-0.195,"d":4.4},{"y":-0.244,"z":-0.195,"d":4.4},{"y":-0.195,"z":-0.195,"d":3.2},{"y":-0.146,"z":-0.195,"d":2.6},{"y":-0.098,"z":-0.195,"d":2},{"y":-0.049,"z":-0.195,"d":3},{"y":0,"z":-0.195,"d":3.4},{"y":0.049,"z":-0.195,"d":3.4},{"y":0.098,"z":-0.195,"d":0.96},{"y":0.146,"z":-0.195,"d":0.85},{"y":0.195,"z":-0.195,"d":0.8},{"y":0.244,"z":-0.195,"d":0.8},{"y":0.293,"z":-0.195,"d":0.8},{"y":0.341,"z":-0.195,"d":0.66},{"y":0.39,"z":-0.195,"d":0.52},{"y":0.439,"z":-0.195,"d":0.3},{"y":0.488,"z":-0.195,"d":0.27},{"y":0.537,"z":-0.195,"d":0.24},{"y":0.585,"z":-0.195,"d":0.25},{"y":0.634,"z":-0.195,"d":0.27},{"y":0.683,"z":-0.195,"d":0.3},{"y":0.732,"z":-0.195,"d":0.35},{"y":0.78,"z":-0.195,"d":0.38},{"y":0.829,"z":-0.195,"d":0.2},{"y":0.878,"z":-0.195,"d":0.18},{"y":0.927,"z":-0.195,"d":0.1},{"y":0.976,"z":-0.195,"d":0.015},
{"y":-0.927,"z":-0.244,"d":0.2},{"y":-0.878,"z":-0.244,"d":0.27},{"y":-0.829,"z":-0.244,"d":0.3},{"y":-0.78,"z":-0.244,"d":0.38},{"y":-0.732,"z":-0.244,"d":0.4},{"y":-0.683,"z":-0.244,"d":0.46},{"y":-0.634,"z":-0.244,"d":0.46},{"y":-0.585,"z":-0.244,"d":0.66},{"y":-0.537,"z":-0.244,"d":0.66},{"y":-0.488,"z":-0.244,"d":0.8},{"y":-0.439,"z":-0.244,"d":0.8},{"y":-0.39,"z":-0.244,"d":0.96},{"y":-0.341,"z":-0.244,"d":1.5},{"y":-0.293,"z":-0.244,"d":2.6},{"y":-0.244,"z":-0.244,"d":3.2},{"y":-0.195,"z":-0.244,"d":3.2},{"y":-0.146,"z":-0.244,"d":2.6},{"y":-0.098,"z":-0.244,"d":1.6},{"y":-0.049,"z":-0.244,"d":1.35},{"y":0,"z":-0.244,"d":1.15},{"y":0.049,"z":-0.244,"d":0.96},{"y":0.098,"z":-0.244,"d":0.8},{"y":0.146,"z":-0.244,"d":0.8},{"y":0.195,"z":-0.244,"d":0.85},{"y":0.244,"z":-0.244,"d":0.96},{"y":0.293,"z":-0.244,"d":0.96},{"y":0.341,"z":-0.244,"d":0.96},{"y":0.39,"z":-0.244,"d":0.8},{"y":0.439,"z":-0.244,"d":0.46},{"y":0.488,"z":-0.244,"d":0.38},{"y":0.537,"z":-0.244,"d":0.27},{"y":0.585,"z":-0.244,"d":0.27},{"y":0.634,"z":-0.244,"d":0.3},{"y":0.683,"z":-0.244,"d":0.35},{"y":0.732,"z":-0.244,"d":0.38},{"y":0.78,"z":-0.244,"d":0.27},{"y":0.829,"z":-0.244,"d":0.2},{"y":0.878,"z":-0.244,"d":0.18},{"y":0.927,"z":-0.244,"d":0.05},
{"y":-0.927,"z":-0.293,"d":0.16},{"y":-0.878,"z":-0.293,"d":0.27},{"y":-0.829,"z":-0.293,"d":0.27},{"y":-0.78,"z":-0.293,"d":0.35},{"y":-0.732,"z":-0.293,"d":0.38},{"y":-0.683,"z":-0.293,"d":0.46},{"y":-0.634,"z":-0.293,"d":0.46},{"y":-0.585,"z":-0.293,"d":0.55},{"y":-0.537,"z":-0.293,"d":0.55},{"y":-0.488,"z":-0.293,"d":0.8},{"y":-0.439,"z":-0.293,"d":0.8},{"y":-0.39,"z":-0.293,"d":0.85},{"y":-0.341,"z":-0.293,"d":1.15},{"y":-0.293,"z":-0.293,"d":2.2},{"y":-0.244,"z":-0.293,"d":3.4},{"y":-0.195,"z":-0.293,"d":3},{"y":-0.146,"z":-0.293,"d":2.6},{"y":-0.098,"z":-0.293,"d":1.7},{"y":-0.049,"z":-0.293,"d":1.35},{"y":0,"z":-0.293,"d":1.15},{"y":0.049,"z":-0.293,"d":0.55},{"y":0.098,"z":-0.293,"d":0.8},{"y":0.146,"z":-0.293,"d":0.8},{"y":0.195,"z":-0.293,"d":0.8},{"y":0.244,"z":-0.293,"d":0.85},{"y":0.293,"z":-0.293,"d":0.96},{"y":0.341,"z":-0.293,"d":0.96},{"y":0.39,"z":-0.293,"d":0.85},{"y":0.439,"z":-0.293,"d":0.55},{"y":0.488,"z":-0.293,"d":0.38},{"y":0.537,"z":-0.293,"d":0.3},{"y":0.585,"z":-0.293,"d":0.27},{"y":0.634,"z":-0.293,"d":0.3},{"y":0.683,"z":-0.293,"d":0.38},{"y":0.732,"z":-0.293,"d":0.35},{"y":0.78,"z":-0.293,"d":0.35},{"y":0.829,"z":-0.293,"d":0.16},{"y":0.878,"z":-0.293,"d":0.09},{"y":0.927,"z":-0.293,"d":0.02},
{"y":-0.927,"z":-0.341,"d":0.1},{"y":-0.878,"z":-0.341,"d":0.2},{"y":-0.829,"z":-0.341,"d":0.24},{"y":-0.78,"z":-0.341,"d":0.27},{"y":-0.732,"z":-0.341,"d":0.38},{"y":-0.683,"z":-0.341,"d":0.46},{"y":-0.634,"z":-0.341,"d":0.46},{"y":-0.585,"z":-0.341,"d":0.52},{"y":-0.537,"z":-0.341,"d":0.52},{"y":-0.488,"z":-0.341,"d":0.66},{"y":-0.439,"z":-0.341,"d":0.72},{"y":-0.39,"z":-0.341,"d":0.8},{"y":-0.341,"z":-0.341,"d":0.85},{"y":-0.293,"z":-0.341,"d":0.96},{"y":-0.244,"z":-0.341,"d":1.15},{"y":-0.195,"z":-0.341,"d":1.6},{"y":-0.146,"z":-0.341,"d":1.6},{"y":-0.098,"z":-0.341,"d":1.6},{"y":-0.049,"z":-0.341,"d":1.5},{"y":0,"z":-0.341,"d":1.35},{"y":0.049,"z":-0.341,"d":0.8},{"y":0.098,"z":-0.341,"d":0.8},{"y":0.146,"z":-0.341,"d":0.8},{"y":0.195,"z":-0.341,"d":0.85},{"y":0.244,"z":-0.341,"d":0.96},{"y":0.293,"z":-0.341,"d":1.15},{"y":0.341,"z":-0.341,"d":1.15},{"y":0.39,"z":-0.341,"d":1.15},{"y":0.439,"z":-0.341,"d":0.85},{"y":0.488,"z":-0.341,"d":0.55},{"y":0.537,"z":-0.341,"d":0.35},{"y":0.585,"z":-0.341,"d":0.3},{"y":0.634,"z":-0.341,"d":0.3},{"y":0.683,"z":-0.341,"d":0.35},{"y":0.732,"z":-0.341,"d":0.27},{"y":0.78,"z":-0.341,"d":0.2},{"y":0.829,"z":-0.341,"d":0.15},{"y":0.878,"z":-0.341,"d":0.05},{"y":0.927,"z":-0.341,"d":0.02},
{"y":-0.878,"z":-0.39,"d":0.18},{"y":-0.829,"z":-0.39,"d":0.24},{"y":-0.78,"z":-0.39,"d":0.27},{"y":-0.732,"z":-0.39,"d":0.38},{"y":-0.683,"z":-0.39,"d":0.4},{"y":-0.634,"z":-0.39,"d":0.55},{"y":-0.585,"z":-0.39,"d":0.55},{"y":-0.537,"z":-0.39,"d":0.55},{"y":-0.488,"z":-0.39,"d":0.66},{"y":-0.439,"z":-0.39,"d":0.72},{"y":-0.39,"z":-0.39,"d":0.8},{"y":-0.341,"z":-0.39,"d":0.8},{"y":-0.293,"z":-0.39,"d":0.8},{"y":-0.244,"z":-0.39,"d":0.85},{"y":-0.195,"z":-0.39,"d":0.85},{"y":-0.146,"z":-0.39,"d":0.85},{"y":-0.098,"z":-0.39,"d":0.85},{"y":-0.049,"z":-0.39,"d":0.85},{"y":0,"z":-0.39,"d":0.96},{"y":0.049,"z":-0.39,"d":0.96},{"y":0.098,"z":-0.39,"d":0.8},{"y":0.146,"z":-0.39,"d":0.8},{"y":0.195,"z":-0.39,"d":0.8},{"y":0.244,"z":-0.39,"d":0.85},{"y":0.293,"z":-0.39,"d":1.15},{"y":0.341,"z":-0.39,"d":1.2},{"y":0.39,"z":-0.39,"d":1.35},{"y":0.439,"z":-0.39,"d":1.35},{"y":0.488,"z":-0.39,"d":0.96},{"y":0.537,"z":-0.39,"d":0.55},{"y":0.585,"z":-0.39,"d":0.38},{"y":0.634,"z":-0.39,"d":0.38},{"y":0.683,"z":-0.39,"d":0.4},{"y":0.732,"z":-0.39,"d":0.38},{"y":0.78,"z":-0.39,"d":0.2},{"y":0.829,"z":-0.39,"d":0.13},{"y":0.878,"z":-0.39,"d":0.04},
{"y":-0.878,"z":-0.439,"d":0.09},{"y":-0.829,"z":-0.439,"d":0.19},{"y":-0.78,"z":-0.439,"d":0.25},{"y":-0.732,"z":-0.439,"d":0.3},{"y":-0.683,"z":-0.439,"d":0.4},{"y":-0.634,"z":-0.439,"d":0.46},{"y":-0.585,"z":-0.439,"d":0.55},{"y":-0.537,"z":-0.439,"d":0.55},{"y":-0.488,"z":-0.439,"d":0.6},{"y":-0.439,"z":-0.439,"d":0.66},{"y":-0.39,"z":-0.439,"d":0.8},{"y":-0.341,"z":-0.439,"d":0.8},{"y":-0.293,"z":-0.439,"d":0.8},{"y":-0.244,"z":-0.439,"d":0.72},{"y":-0.195,"z":-0.439,"d":0.66},{"y":-0.146,"z":-0.439,"d":0.66},{"y":-0.098,"z":-0.439,"d":0.66},{"y":-0.049,"z":-0.439,"d":0.66},{"y":0,"z":-0.439,"d":0.66},{"y":0.049,"z":-0.439,"d":0.55},{"y":0.098,"z":-0.439,"d":0.6},{"y":0.146,"z":-0.439,"d":0.66},{"y":0.195,"z":-0.439,"d":0.66},{"y":0.244,"z":-0.439,"d":0.66},{"y":0.293,"z":-0.439,"d":0.8},{"y":0.341,"z":-0.439,"d":1.2},{"y":0.39,"z":-0.439,"d":1.35},{"y":0.439,"z":-0.439,"d":1.35},{"y":0.488,"z":-0.439,"d":1.35},{"y":0.537,"z":-0.439,"d":0.66},{"y":0.585,"z":-0.439,"d":0.4},{"y":0.634,"z":-0.439,"d":0.4},{"y":0.683,"z":-0.439,"d":0.3},{"y":0.732,"z":-0.439,"d":0.21},{"y":0.78,"z":-0.439,"d":0.18},{"y":0.829,"z":-0.439,"d":0.07},{"y":0.878,"z":-0.439,"d":0.025},
{"y":-0.829,"z":-0.488,"d":0.15},{"y":-0.78,"z":-0.488,"d":0.18},{"y":-0.732,"z":-0.488,"d":0.21},{"y":-0.683,"z":-0.488,"d":0.38},{"y":-0.634,"z":-0.488,"d":0.46},{"y":-0.585,"z":-0.488,"d":0.52},{"y":-0.537,"z":-0.488,"d":0.52},{"y":-0.488,"z":-0.488,"d":0.55},{"y":-0.439,"z":-0.488,"d":0.55},{"y":-0.39,"z":-0.488,"d":0.6},{"y":-0.341,"z":-0.488,"d":0.66},{"y":-0.293,"z":-0.488,"d":0.72},{"y":-0.244,"z":-0.488,"d":0.72},{"y":-0.195,"z":-0.488,"d":0.66},{"y":-0.146,"z":-0.488,"d":0.55},{"y":-0.098,"z":-0.488,"d":0.55},{"y":-0.049,"z":-0.488,"d":0.6},{"y":0,"z":-0.488,"d":0.55},{"y":0.049,"z":-0.488,"d":0.55},{"y":0.098,"z":-0.488,"d":0.6},{"y":0.146,"z":-0.488,"d":0.6},{"y":0.195,"z":-0.488,"d":0.66},{"y":0.244,"z":-0.488,"d":0.66},{"y":0.293,"z":-0.488,"d":0.8},{"y":0.341,"z":-0.488,"d":0.96},{"y":0.39,"z":-0.488,"d":1.05},{"y":0.439,"z":-0.488,"d":1.1},{"y":0.488,"z":-0.488,"d":0.9},{"y":0.537,"z":-0.488,"d":0.8},{"y":0.585,"z":-0.488,"d":0.46},{"y":0.634,"z":-0.488,"d":0.38},{"y":0.683,"z":-0.488,"d":0.27},{"y":0.732,"z":-0.488,"d":0.15},{"y":0.78,"z":-0.488,"d":0.07},{"y":0.829,"z":-0.488,"d":0.03},
{"y":-0.829,"z":-0.537,"d":0.09},{"y":-0.78,"z":-0.537,"d":0.18},{"y":-0.732,"z":-0.537,"d":0.2},{"y":-0.683,"z":-0.537,"d":0.27},{"y":-0.634,"z":-0.537,"d":0.38},{"y":-0.585,"z":-0.537,"d":0.46},{"y":-0.537,"z":-0.537,"d":0.46},{"y":-0.488,"z":-0.537,"d":0.52},{"y":-0.439,"z":-0.537,"d":0.52},{"y":-0.39,"z":-0.537,"d":0.52},{"y":-0.341,"z":-0.537,"d":0.6},{"y":-0.293,"z":-0.537,"d":0.66},{"y":-0.244,"z":-0.537,"d":0.66},{"y":-0.195,"z":-0.537,"d":0.6},{"y":-0.146,"z":-0.537,"d":0.55},{"y":-0.098,"z":-0.537,"d":0.55},{"y":-0.049,"z":-0.537,"d":0.55},{"y":0,"z":-0.537,"d":0.55},{"y":0.049,"z":-0.537,"d":0.6},{"y":0.098,"z":-0.537,"d":0.6},{"y":0.146,"z":-0.537,"d":0.6},{"y":0.195,"z":-0.537,"d":0.6},{"y":0.244,"z":-0.537,"d":0.6},{"y":0.293,"z":-0.537,"d":0.66},{"y":0.341,"z":-0.537,"d":0.8},{"y":0.39,"z":-0.537,"d":0.96},{"y":0.439,"z":-0.537,"d":1.1},{"y":0.488,"z":-0.537,"d":1.25},{"y":0.537,"z":-0.537,"d":1.05},{"y":0.585,"z":-0.537,"d":1.05},{"y":0.634,"z":-0.537,"d":0.38},{"y":0.683,"z":-0.537,"d":0.22},{"y":0.732,"z":-0.537,"d":0.12},{"y":0.78,"z":-0.537,"d":0.04},{"y":0.829,"z":-0.537,"d":0.03},
{"y":-0.78,"z":-0.585,"d":0.12},{"y":-0.732,"z":-0.585,"d":0.18},{"y":-0.683,"z":-0.585,"d":0.2},{"y":-0.634,"z":-0.585,"d":0.3},{"y":-0.585,"z":-0.585,"d":0.4},{"y":-0.537,"z":-0.585,"d":0.46},{"y":-0.488,"z":-0.585,"d":0.46},{"y":-0.439,"z":-0.585,"d":0.46},{"y":-0.39,"z":-0.585,"d":0.46},{"y":-0.341,"z":-0.585,"d":0.52},{"y":-0.293,"z":-0.585,"d":0.55},{"y":-0.244,"z":-0.585,"d":0.6},{"y":-0.195,"z":-0.585,"d":0.6},{"y":-0.146,"z":-0.585,"d":0.55},{"y":-0.098,"z":-0.585,"d":0.55},{"y":-0.049,"z":-0.585,"d":0.6},{"y":0,"z":-0.585,"d":0.55},{"y":0.049,"z":-0.585,"d":0.46},{"y":0.098,"z":-0.585,"d":0.66},{"y":0.146,"z":-0.585,"d":0.66},{"y":0.195,"z":-0.585,"d":0.6},{"y":0.244,"z":-0.585,"d":0.6},{"y":0.293,"z":-0.585,"d":0.66},{"y":0.341,"z":-0.585,"d":0.8},{"y":0.39,"z":-0.585,"d":0.8},{"y":0.439,"z":-0.585,"d":0.96},{"y":0.488,"z":-0.585,"d":1.3},{"y":0.537,"z":-0.585,"d":1.15},{"y":0.585,"z":-0.585,"d":1.15},{"y":0.634,"z":-0.585,"d":0.46},{"y":0.683,"z":-0.585,"d":0.2},{"y":0.732,"z":-0.585,"d":0.1},{"y":0.78,"z":-0.585,"d":0.04},
{"y":-0.732,"z":-0.634,"d":0.15},{"y":-0.683,"z":-0.634,"d":0.17},{"y":-0.634,"z":-0.634,"d":0.25},{"y":-0.585,"z":-0.634,"d":0.35},{"y":-0.537,"z":-0.634,"d":0.46},{"y":-0.488,"z":-0.634,"d":0.46},{"y":-0.439,"z":-0.634,"d":0.46},{"y":-0.39,"z":-0.634,"d":0.55},{"y":-0.341,"z":-0.634,"d":0.55},{"y":-0.293,"z":-0.634,"d":0.55},{"y":-0.244,"z":-0.634,"d":0.6},{"y":-0.195,"z":-0.634,"d":0.6},{"y":-0.146,"z":-0.634,"d":0.6},{"y":-0.098,"z":-0.634,"d":0.55},{"y":-0.049,"z":-0.634,"d":0.6},{"y":0,"z":-0.634,"d":0.66},{"y":0.049,"z":-0.634,"d":0.66},{"y":0.098,"z":-0.634,"d":0.8},{"y":0.146,"z":-0.634,"d":0.8},{"y":0.195,"z":-0.634,"d":0.72},{"y":0.244,"z":-0.634,"d":0.72},{"y":0.293,"z":-0.634,"d":0.72},{"y":0.341,"z":-0.634,"d":0.72},{"y":0.39,"z":-0.634,"d":0.72},{"y":0.439,"z":-0.634,"d":0.9},{"y":0.488,"z":-0.634,"d":1.25},{"y":0.537,"z":-0.634,"d":1.25},{"y":0.585,"z":-0.634,"d":1.15},{"y":0.634,"z":-0.634,"d":0.66},{"y":0.683,"z":-0.634,"d":0.2},{"y":0.732,"z":-0.634,"d":0.09},
{"y":-0.683,"z":-0.683,"d":0.14},{"y":-0.634,"z":-0.683,"d":0.18},{"y":-0.585,"z":-0.683,"d":0.21},{"y":-0.537,"z":-0.683,"d":0.38},{"y":-0.488,"z":-0.683,"d":0.46},{"y":-0.439,"z":-0.683,"d":0.46},{"y":-0.39,"z":-0.683,"d":0.46},{"y":-0.341,"z":-0.683,"d":0.55},{"y":-0.293,"z":-0.683,"d":0.55},{"y":-0.244,"z":-0.683,"d":0.38},{"y":-0.195,"z":-0.683,"d":0.35},{"y":-0.146,"z":-0.683,"d":0.66},{"y":-0.098,"z":-0.683,"d":0.55},{"y":-0.049,"z":-0.683,"d":0.72},{"y":0,"z":-0.683,"d":0.8},{"y":0.049,"z":-0.683,"d":0.66},{"y":0.098,"z":-0.683,"d":0.85},{"y":0.146,"z":-0.683,"d":0.96},{"y":0.195,"z":-0.683,"d":0.96},{"y":0.244,"z":-0.683,"d":0.85},{"y":0.293,"z":-0.683,"d":0.8},{"y":0.341,"z":-0.683,"d":0.8},{"y":0.39,"z":-0.683,"d":0.66},{"y":0.439,"z":-0.683,"d":0.66},{"y":0.488,"z":-0.683,"d":0.85},{"y":0.537,"z":-0.683,"d":0.8},{"y":0.585,"z":-0.683,"d":0.55},{"y":0.634,"z":-0.683,"d":0.3},{"y":0.683,"z":-0.683,"d":0.16},
{"y":-0.634,"z":-0.732,"d":0.15},{"y":-0.585,"z":-0.732,"d":0.18},{"y":-0.537,"z":-0.732,"d":0.2},{"y":-0.488,"z":-0.732,"d":0.25},{"y":-0.439,"z":-0.732,"d":0.27},{"y":-0.39,"z":-0.732,"d":0.38},{"y":-0.341,"z":-0.732,"d":0.38},{"y":-0.293,"z":-0.732,"d":0.35},{"y":-0.244,"z":-0.732,"d":0.3},{"y":-0.195,"z":-0.732,"d":0.27},{"y":-0.146,"z":-0.732,"d":0.27},{"y":-0.098,"z":-0.732,"d":0.38},{"y":-0.049,"z":-0.732,"d":0.46},{"y":0,"z":-0.732,"d":0.6},{"y":0.049,"z":-0.732,"d":0.55},{"y":0.098,"z":-0.732,"d":0.8},{"y":0.146,"z":-0.732,"d":0.8},{"y":0.195,"z":-0.732,"d":0.96},{"y":0.244,"z":-0.732,"d":0.96},{"y":0.293,"z":-0.732,"d":0.85},{"y":0.341,"z":-0.732,"d":0.8},{"y":0.39,"z":-0.732,"d":0.55},{"y":0.439,"z":-0.732,"d":0.46},{"y":0.488,"z":-0.732,"d":0.38},{"y":0.537,"z":-0.732,"d":0.38},{"y":0.585,"z":-0.732,"d":0.46},{"y":0.634,"z":-0.732,"d":0.46},
{"y":-0.585,"z":-0.78,"d":0.1},{"y":-0.537,"z":-0.78,"d":0.18},{"y":-0.488,"z":-0.78,"d":0.2},{"y":-0.439,"z":-0.78,"d":0.27},{"y":-0.39,"z":-0.78,"d":0.3},{"y":-0.341,"z":-0.78,"d":0.35},{"y":-0.293,"z":-0.78,"d":0.35},{"y":-0.244,"z":-0.78,"d":0.35},{"y":-0.195,"z":-0.78,"d":0.27},{"y":-0.146,"z":-0.78,"d":0.27},{"y":-0.098,"z":-0.78,"d":0.3},{"y":-0.049,"z":-0.78,"d":0.35},{"y":0,"z":-0.78,"d":0.46},{"y":0.049,"z":-0.78,"d":0.46},{"y":0.098,"z":-0.78,"d":0.66},{"y":0.146,"z":-0.78,"d":0.8},{"y":0.195,"z":-0.78,"d":0.85},{"y":0.244,"z":-0.78,"d":0.85},{"y":0.293,"z":-0.78,"d":0.85},{"y":0.341,"z":-0.78,"d":0.8},{"y":0.39,"z":-0.78,"d":0.46},{"y":0.439,"z":-0.78,"d":0.46},{"y":0.488,"z":-0.78,"d":0.38},{"y":0.537,"z":-0.78,"d":0.38},{"y":0.585,"z":-0.78,"d":0.38},
{"y":-0.537,"z":-0.829,"d":0.06},{"y":-0.488,"z":-0.829,"d":0.14},{"y":-0.439,"z":-0.829,"d":0.25},{"y":-0.39,"z":-0.829,"d":0.3},{"y":-0.341,"z":-0.829,"d":0.3},{"y":-0.293,"z":-0.829,"d":0.27},{"y":-0.244,"z":-0.829,"d":0.22},{"y":-0.195,"z":-0.829,"d":0.22},{"y":-0.146,"z":-0.829,"d":0.24},{"y":-0.098,"z":-0.829,"d":0.25},{"y":-0.049,"z":-0.829,"d":0.3},{"y":0,"z":-0.829,"d":0.35},{"y":0.049,"z":-0.829,"d":0.4},{"y":0.098,"z":-0.829,"d":0.55},{"y":0.146,"z":-0.829,"d":0.66},{"y":0.195,"z":-0.829,"d":0.66},{"y":0.244,"z":-0.829,"d":0.96},{"y":0.293,"z":-0.829,"d":0.96},{"y":0.341,"z":-0.829,"d":1.15},{"y":0.39,"z":-0.829,"d":1.1},{"y":0.439,"z":-0.829,"d":0.55},{"y":0.488,"z":-0.829,"d":0.4},{"y":0.537,"z":-0.829,"d":0.25},
{"y":-0.439,"z":-0.878,"d":0.07},{"y":-0.39,"z":-0.878,"d":0.16},{"y":-0.341,"z":-0.878,"d":0.22},{"y":-0.293,"z":-0.878,"d":0.25},{"y":-0.244,"z":-0.878,"d":0.23},{"y":-0.195,"z":-0.878,"d":0.22},{"y":-0.146,"z":-0.878,"d":0.21},{"y":-0.098,"z":-0.878,"d":0.21},{"y":-0.049,"z":-0.878,"d":0.24},{"y":0,"z":-0.878,"d":0.22},{"y":0.049,"z":-0.878,"d":0.22},{"y":0.098,"z":-0.878,"d":0.3},{"y":0.146,"z":-0.878,"d":0.38},{"y":0.195,"z":-0.878,"d":0.38},{"y":0.244,"z":-0.878,"d":0.66},{"y":0.293,"z":-0.878,"d":0.66},{"y":0.341,"z":-0.878,"d":0.66},{"y":0.39,"z":-0.878,"d":0.8},{"y":0.439,"z":-0.878,"d":0.46},
{"y":-0.341,"z":-0.927,"d":0.08},{"y":-0.293,"z":-0.927,"d":0.14},{"y":-0.244,"z":-0.927,"d":0.17},{"y":-0.195,"z":-0.927,"d":0.19},{"y":-0.146,"z":-0.927,"d":0.2},{"y":-0.098,"z":-0.927,"d":0.19},{"y":-0.049,"z":-0.927,"d":0.18},{"y":0,"z":-0.927,"d":0.18},{"y":0.049,"z":-0.927,"d":0.19},{"y":0.098,"z":-0.927,"d":0.2},{"y":0.146,"z":-0.927,"d":0.22},{"y":0.195,"z":-0.927,"d":0.25},{"y":0.244,"z":-0.927,"d":0.27},{"y":0.293,"z":-0.927,"d":0.27},{"y":0.341,"z":-0.927,"d":0.22},
{"y":-0.195,"z":-0.976,"d":0.03},{"y":-0.146,"z":-0.976,"d":0.13},{"y":-0.098,"z":-0.976,"d":0.14},{"y":-0.049,"z":-0.976,"d":0.18},{"y":0,"z":-0.976,"d":0.18},{"y":0.049,"z":-0.976,"d":0.18},{"y":0.098,"z":-0.976,"d":0.19},{"y":0.146,"z":-0.976,"d":0.25},{"y":0.195,"z":-0.976,"d":0.2}
]},
"hconcat":[
{"width":799,"height":799,"layer":[
{"data":{"name":"cells"},"mark":{"type":"rect","width":20.4,"height":20.4},"encoding":{
"x":{"field":"y","type":"quantitative","scale":{"domain":[-1,1],"nice":false,"zero":false},"axis":{"orient":"bottom","title":"y\u00a0\u00a0(code length)","titlePadding":8,"values":[-1,-0.75,-0.5,-0.25,0,0.25,0.5,0.75,1],"format":".2f","tickSize":-7,"labelPadding":9,"labelFlush":false,"labelOverlap":false}},
"y":{"field":"z","type":"quantitative","scale":{"domain":[-1,1],"nice":false,"zero":false},"axis":{"orient":"left","title":"z\u00a0\u00a0(code length)","titlePadding":10,"values":[-1,-0.75,-0.5,-0.25,0,0.25,0.5,0.75,1],"format":".2f","tickSize":-7,"labelPadding":14,"labelFlush":false,"labelOverlap":false}},
"color":{"field":"d","type":"quantitative","legend":null,"scale":{"type":"linear","interpolate":"rgb","clamp":true,"domain":[0,0.1,0.2,0.5,1,2,5,10,20,50,100,200],"range":["#ffffff","#dddddd","#bfbfbf","#a8a8a8","#959595","#808080","#666666","#515151","#3e3e3e","#252525","#121212","#000000"]}}}},
{"data":{"name":"contour"},"mark":{"type":"line","color":"#bdbd00","strokeWidth":2,"interpolate":"linear"},"encoding":{"x":{"field":"y","type":"quantitative","axis":null},"y":{"field":"z","type":"quantitative","axis":null},"order":{"field":"n"}}},
{"data":{"name":"stars"},"mark":{"type":"square","color":"#ff0000","size":6,"opacity":1},"encoding":{"x":{"field":"y","type":"quantitative","axis":null},"y":{"field":"z","type":"quantitative","axis":null}}},
{"data":{"values":[{"y":-1,"z":1,"t":"×10"}]},"mark":{"type":"text","align":"left","baseline":"alphabetic","fontSize":25,"dx":1,"dy":-5},"encoding":{"x":{"field":"y","type":"quantitative","axis":null},"y":{"field":"z","type":"quantitative","axis":null},"text":{"field":"t"}}},
{"data":{"values":[{"y":-1,"z":1,"t":"−2"}]},"mark":{"type":"text","align":"left","baseline":"alphabetic","fontSize":20,"dx":42,"dy":-14},"encoding":{"x":{"field":"y","type":"quantitative","axis":null},"y":{"field":"z","type":"quantitative","axis":null},"text":{"field":"t"}}},
{"data":{"values":[{"y":1,"z":-1,"t":"×10"}]},"mark":{"type":"text","align":"left","baseline":"alphabetic","fontSize":25,"dx":-63,"dy":53},"encoding":{"x":{"field":"y","type":"quantitative","axis":null},"y":{"field":"z","type":"quantitative","axis":null},"text":{"field":"t"}}},
{"data":{"values":[{"y":1,"z":-1,"t":"−2"}]},"mark":{"type":"text","align":"left","baseline":"alphabetic","fontSize":20,"dx":-22,"dy":46},"encoding":{"x":{"field":"y","type":"quantitative","axis":null},"y":{"field":"z","type":"quantitative","axis":null},"text":{"field":"t"}}},
{"data":{"name":"frame"},"mark":{"type":"point","opacity":0},"encoding":{
"x":{"field":"y","type":"quantitative","axis":{"orient":"top","title":null,"labels":false,"values":[-1,-0.75,-0.5,-0.25,0,0.25,0.5,0.75,1],"tickSize":-7}},
"y":{"field":"z","type":"quantitative","axis":{"orient":"right","title":null,"labels":false,"values":[-1,-0.75,-0.5,-0.25,0,0.25,0.5,0.75,1],"tickSize":-7}}}},
{"data":{"name":"frame"},"mark":{"type":"point","opacity":0},"encoding":{
"x":{"field":"y","type":"quantitative","axis":{"orient":"bottom","title":null,"labels":false,"domain":false,"tickWidth":1,"values":[-0.95,-0.9,-0.85,-0.8,-0.7,-0.65,-0.6,-0.55,-0.45,-0.4,-0.35,-0.3,-0.2,-0.15,-0.1,-0.05,0.05,0.1,0.15,0.2,0.3,0.35,0.4,0.45,0.55,0.6,0.65,0.7,0.8,0.85,0.9,0.95],"tickSize":-4}},
"y":{"field":"z","type":"quantitative","axis":{"orient":"left","title":null,"labels":false,"domain":false,"tickWidth":1,"values":[-0.95,-0.9,-0.85,-0.8,-0.7,-0.65,-0.6,-0.55,-0.45,-0.4,-0.35,-0.3,-0.2,-0.15,-0.1,-0.05,0.05,0.1,0.15,0.2,0.3,0.35,0.4,0.45,0.55,0.6,0.65,0.7,0.8,0.85,0.9,0.95],"tickSize":-4}}}},
{"data":{"name":"frame"},"mark":{"type":"point","opacity":0},"encoding":{
"x":{"field":"y","type":"quantitative","axis":{"orient":"top","title":null,"labels":false,"domain":false,"tickWidth":1,"values":[-0.95,-0.9,-0.85,-0.8,-0.7,-0.65,-0.6,-0.55,-0.45,-0.4,-0.35,-0.3,-0.2,-0.15,-0.1,-0.05,0.05,0.1,0.15,0.2,0.3,0.35,0.4,0.45,0.55,0.6,0.65,0.7,0.8,0.85,0.9,0.95],"tickSize":-4}},
"y":{"field":"z","type":"quantitative","axis":{"orient":"right","title":null,"labels":false,"domain":false,"tickWidth":1,"values":[-0.95,-0.9,-0.85,-0.8,-0.7,-0.65,-0.6,-0.55,-0.45,-0.4,-0.35,-0.3,-0.2,-0.15,-0.1,-0.05,0.05,0.1,0.15,0.2,0.3,0.35,0.4,0.45,0.55,0.6,0.65,0.7,0.8,0.85,0.9,0.95],"tickSize":-4}}}}
],"resolve":{"axis":{"x":"independent","y":"independent"}}},
{"width":30,"height":799,"layer":[
{"data":{"values":[{"lo":0,"hi":200}]},"mark":{"type":"rect","stroke":"black","strokeWidth":1.5,"fill":{"x1":0,"y1":1,"x2":0,"y2":0,"gradient":"linear","stops":[{"offset":0,"color":"#ffffff"},{"offset":1,"color":"#000000"}]}},"encoding":{
"y":{"field":"lo","type":"quantitative","scale":{"type":"linear","zero":false,"nice":false,"domain":[0,0.1,0.2,0.5,1,2,5,10,20,50,100,200],"range":[799,693,587,509,449,390,313,254,195,118,59,0]},"axis":{"orient":"right","title":null,"values":[0.1,1,10,100],"labels":false,"tickSize":-7,"domain":false}},
"y2":{"field":"hi"}}},
{"data":{"values":[{"d":0,"t":"0"},{"d":0.1,"t":"10"},{"d":1,"t":"10"},{"d":10,"t":"10"},{"d":100,"t":"10"}]},"mark":{"type":"text","align":"left","baseline":"middle","fontSize":24,"dx":23},"encoding":{"y":{"field":"d","type":"quantitative"},"text":{"field":"t"}}},
{"data":{"values":[{"d":0.1,"t":"−1"},{"d":1,"t":"0"},{"d":10,"t":"1"},{"d":100,"t":"2"}]},"mark":{"type":"text","align":"left","baseline":"middle","fontSize":17,"dx":47,"dy":-9},"encoding":{"y":{"field":"d","type":"quantitative"},"text":{"field":"t"}}},
{"data":{"values":[{"d":1.17,"t":"Density"}]},"mark":{"type":"text","angle":270,"align":"center","baseline":"middle","fontSize":26,"dy":81},"encoding":{"y":{"field":"d","type":"quantitative"},"text":{"field":"t"}}},
{"data":{"values":[{"d":2.54,"t":"("},{"d":4.19,"t":")"}]},"mark":{"type":"text","angle":270,"align":"center","baseline":"middle","fontSize":38,"fontWeight":"normal","dy":83},"encoding":{"y":{"field":"d","type":"quantitative"},"text":{"field":"t"}}},
{"data":{"values":[{"d":3.14,"t":"g"}]},"mark":{"type":"text","angle":270,"align":"center","baseline":"middle","fontSize":18,"dy":73},"encoding":{"y":{"field":"d","type":"quantitative"},"text":{"field":"t"}}},
{"data":{"values":[{"d":3.14,"t":"—"}]},"mark":{"type":"text","angle":270,"align":"center","baseline":"middle","fontSize":32,"dy":83},"encoding":{"y":{"field":"d","type":"quantitative"},"text":{"field":"t"}}},
{"data":{"values":[{"d":3.14,"t":"cm²"}]},"mark":{"type":"text","angle":270,"align":"center","baseline":"middle","fontSize":18,"dy":95},"encoding":{"y":{"field":"d","type":"quantitative"},"text":{"field":"t"}}}
]}
]}
